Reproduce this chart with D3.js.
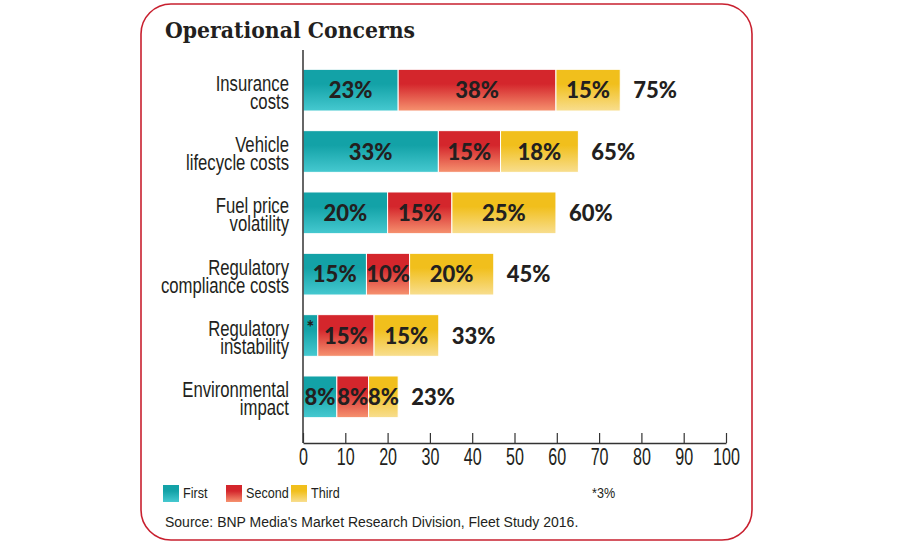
<!DOCTYPE html>
<html>
<head>
<meta charset="utf-8">
<script src="https://cdn.jsdelivr.net/npm/d3@7"></script>
<style>
  body { margin: 0; background: #fff; }
</style>
</head>
<body>
<div id="chart"></div>
<script>
const width = 900, height = 550;

// data
const categories = ["Insurance|costs", "Vehicle|lifecycle costs", "Fuel price|volatility",
  "Regulatory|compliance costs", "Regulatory|instability", "Environmental|impact"];
const first  = [22.5, 32, 20, 15, 3.5, 8];
const second = [37.3, 14.7, 15.2, 10.2, 13.3, 7.5];
const third  = [15.2, 18.4, 24.6, 19.9, 15.3, 7];
const firstLabels  = ["23%", "33%", "20%", "15%", "*", "8%"];
const secondLabels = ["38%", "15%", "15%", "10%", "15%", "8%"];
const thirdLabels  = ["15%", "18%", "25%", "20%", "15%", "8%"];
const totalLabels  = ["75%", "65%", "60%", "45%", "33%", "23%"];
const seriesNames = ["First", "Second", "Third"];
const xTicks = [0, 10, 20, 30, 40, 50, 60, 70, 80, 90, 100];

const grads = [
  ["#13a2a7", "#46c9d0"],
  ["#d4262c", "#f6926f"],
  ["#f1bf1c", "#f8de8f"]
];
const sans = "Liberation Sans, Arial, sans-serif";

const svg = d3.select("#chart").append("svg")
  .attr("width", width)
  .attr("height", height)
  .attr("viewBox", [0, 0, width, height]);

const defs = svg.append("defs");
grads.forEach((g, i) => {
  const lg = defs.append("linearGradient")
    .attr("id", "g" + i)
    .attr("x1", 0).attr("y1", 0).attr("x2", 0).attr("y2", 1);
  lg.append("stop").attr("offset", "0%").attr("stop-color", g[0]);
  lg.append("stop").attr("offset", "35%").attr("stop-color", g[0]);
  lg.append("stop").attr("offset", "100%").attr("stop-color", g[1]);
});

// card
svg.append("rect")
  .attr("x", 141).attr("y", 4)
  .attr("width", 611).attr("height", 536)
  .attr("rx", 30).attr("ry", 30)
  .attr("fill", "#fff")
  .attr("stroke", "#c8202f")
  .attr("stroke-width", 1.6);

svg.append("text")
  .attr("x", 165).attr("y", 38)
  .attr("font-family", "DejaVu Serif, serif")
  .attr("font-weight", "bold")
  .attr("font-size", 22)
  .attr("textLength", 250)
  .attr("lengthAdjust", "spacingAndGlyphs")
  .attr("fill", "#231f20")
  .text("Operational Concerns");

const x = d3.scaleLinear().domain([0, 100]).range([303, 726]);
const y = d3.scaleBand()
  .domain(categories)
  .range([59.5, 427.5])
  .paddingInner(0.32)
  .paddingOuter(0.16);

const rows = categories.map((c, i) => {
  const vals = [first[i], second[i], third[i]];
  const labs = [firstLabels[i], secondLabels[i], thirdLabels[i]];
  let acc = 0;
  const segs = vals.map((v, k) => {
    const s = { cat: c, k, x0: acc, x1: acc + v, label: labs[k] };
    acc += v;
    return s;
  });
  return { cat: c, segs, end: acc, total: totalLabels[i] };
});

const segs = rows.flatMap(r => r.segs);

svg.append("g").selectAll("rect")
  .data(segs)
  .join("rect")
  .attr("x", d => x(d.x0))
  .attr("y", d => y(d.cat))
  .attr("width", d => x(d.x1) - x(d.x0))
  .attr("height", y.bandwidth())
  .attr("fill", d => `url(#g${d.k})`)
  .attr("stroke", "#fff")
  .attr("stroke-width", 1);

svg.append("g").selectAll("text")
  .data(segs)
  .join("text")
  .attr("x", d => (x(d.x0) + x(d.x1)) / 2)
  .attr("y", d => y(d.cat) + y.bandwidth() / 2 + (d.label === "*" ? -2 : 8))
  .attr("text-anchor", "middle")
  .attr("font-family", "Lato, sans-serif")
  .attr("font-weight", 900)
  .attr("font-size", d => d.label === "*" ? 18 : 22)
  .attr("fill", "#231f20")
  .text(d => d.label);

svg.append("g").selectAll("text")
  .data(rows)
  .join("text")
  .attr("x", d => x(d.end) + 13)
  .attr("y", d => y(d.cat) + y.bandwidth() / 2 + 8)
  .attr("font-family", "Lato, sans-serif")
  .attr("font-weight", 900)
  .attr("font-size", 22)
  .attr("fill", "#231f20")
  .text(d => d.total);

// category labels, squeezed to mimic the condensed face
const catText = svg.append("g").selectAll("text")
  .data(categories)
  .join("text")
  .attr("transform", d => `translate(289,${y(d) + y.bandwidth() / 2}) scale(0.76,1)`)
  .attr("text-anchor", "end")
  .attr("font-family", sans)
  .attr("font-size", 22)
  .attr("fill", "#231f20");
catText.selectAll("tspan")
  .data(d => d.split("|").map((t, j) => ({ t, j })))
  .join("tspan")
  .attr("x", 0)
  .attr("y", d => 0.5 + d.j * 18)
  .text(d => d.t);

// axes
svg.append("line")
  .attr("x1", 303).attr("x2", 303)
  .attr("y1", 50).attr("y2", 443)
  .attr("stroke", "#333").attr("stroke-width", 1.5);

const gx = svg.append("g")
  .attr("transform", "translate(0,443)")
  .call(d3.axisBottom(x).tickValues(xTicks).tickSize(-10).tickSizeOuter(0).tickPadding(6));
gx.select(".domain").attr("stroke", "#333").attr("stroke-width", 1.5);
gx.selectAll(".tick line").attr("stroke", "#333").attr("stroke-width", 1.2);
gx.selectAll(".tick text")
  .attr("font-family", sans)
  .attr("font-size", 23)
  .attr("transform", "scale(0.7,1)")
  .attr("fill", "#231f20");

// legend
const legend = svg.append("g").attr("transform", "translate(163,485)");
const legX = [0, 63, 128];
seriesNames.forEach((name, i) => {
  legend.append("rect")
    .attr("x", legX[i]).attr("y", 0)
    .attr("width", 16).attr("height", 17)
    .attr("fill", `url(#g${i})`);
  legend.append("text")
    .attr("transform", `translate(${legX[i] + 20},13) scale(0.9,1)`)
    .attr("font-family", sans)
    .attr("font-size", 14)
    .attr("fill", "#231f20")
    .text(name);
});

svg.append("text")
  .attr("transform", "translate(592,498) scale(0.9,1)")
  .attr("font-family", sans)
  .attr("font-size", 14)
  .attr("fill", "#231f20")
  .text("*3%");

svg.append("text")
  .attr("x", 165).attr("y", 527)
  .attr("font-family", sans)
  .attr("font-size", 14)
  .attr("fill", "#231f20")
  .text("Source: BNP Media's Market Research Division, Fleet Study 2016.");
</script>
</body>
</html>
